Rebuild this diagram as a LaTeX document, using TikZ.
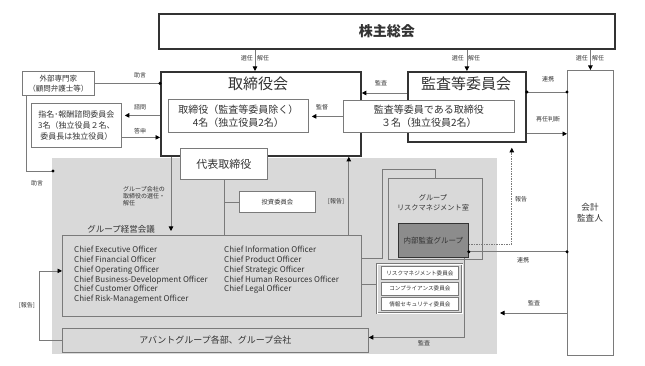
\documentclass[tikz,border=0pt]{standalone}
\usepackage{fontspec}
\setmainfont{Noto Sans CJK JP}
\usetikzlibrary{arrows.meta,calc}
\definecolor{bg}{HTML}{D9D9D9}
\definecolor{ln}{HTML}{7A7A7A}
\definecolor{txt}{HTML}{333333}
\definecolor{dk}{HTML}{8C8C8C}
\begin{document}
\begin{tikzpicture}[x=1pt,y=-1pt,
 every node/.style={text=txt, inner sep=0pt},
 box/.style={draw=ln, line width=0.8pt, fill=white, anchor=north west, align=center},
 tbox/.style={draw=txt, line width=1.8pt, fill=white, anchor=north west, align=center},
 lab/.style={font=\fontsize{6}{7.2}\selectfont},
 con/.style={draw=ln, line width=0.7pt},
 arr/.style={con, -{Triangle[length=4.5pt,width=4.5pt,color=black]}},
 dotc/.style={circle, fill=black, minimum size=3.4pt, inner sep=0pt}
]
\useasboundingbox (0,0) rectangle (645,366);
\fill[bg] (52,158) rectangle (497,354);

% main boxes
\node[tbox, minimum width=456pt, minimum height=35pt, font=\fontsize{14}{14}\selectfont\bfseries] (kabu) at (158,13) {株主総会};
\node[tbox, minimum width=200pt, minimum height=84pt] (tori) at (160,71) {};
\node[font=\fontsize{15}{15}\selectfont] (toriT) at (258,84) {取締役会};
\node[box, minimum width=140pt, minimum height=33pt, font=\fontsize{10}{13}\selectfont] (toriIn) at (168,99) {取締役（監査等委員除く）\\4名（独立役員2名）};
\node[tbox, minimum width=118pt, minimum height=70pt] (kansa) at (407,71) {};
\node[font=\fontsize{15}{15}\selectfont] (kansaT) at (466,84) {監査等委員会};
\node[box, minimum width=171pt, minimum height=32pt, font=\fontsize{10}{13}\selectfont] (kansaIn) at (343,100) {監査等委員である取締役\\３名（独立役員2名）};
\node[box, minimum width=87pt, minimum height=31pt, font=\fontsize{11}{11}\selectfont] (daihyo) at (180,148) {代表取締役};
\node[box, minimum width=72pt, minimum height=24pt, font=\fontsize{7.5}{10}\selectfont] (gaibu) at (22,71) {外部専門家\\（顧問弁護士等）};
\node[box, minimum width=90pt, minimum height=44pt, font=\fontsize{8}{11}\selectfont] (shimei) at (31,103) {指名･報酬諮問委員会\\3名（独立役員２名、\\委員長は独立役員）};
\node[box, minimum width=76pt, minimum height=21pt, font=\fontsize{6.3}{7}\selectfont] (toshi) at (239,191) {投資委員会};
\node[box, fill=bg, minimum width=299pt, minimum height=81pt] (cxo) at (62,235) {};
\node[font=\fontsize{8.5}{9}\selectfont] (keiei) at (121,229) {グループ経営会議};
\node[anchor=north west, align=left, font=\fontsize{8}{9.8}\selectfont] (col1) at (74,246) {Chief Executive Officer\\Chief Financial Officer\\Chief Operating Officer\\Chief Business-Development Officer\\Chief Customer Officer\\Chief Risk-Management Officer};
\node[anchor=north west, align=left, font=\fontsize{8}{9.8}\selectfont] (col2) at (224,246) {Chief Information Officer\\Chief Product Officer\\Chief Strategic Officer\\Chief Human Resources Officer\\Chief Legal Officer};
\node[box, fill=bg, minimum width=306pt, minimum height=24pt, font=\fontsize{9}{9}\selectfont] (avant) at (62,328) {アバントグループ各部、グループ会社};
\node[box, fill=bg, minimum width=94pt, minimum height=81pt] (risk) at (388,178) {};
\node[font=\fontsize{7.2}{10}\selectfont, align=center] (riskT) at (433,203) {グループ\\リスクマネジメント室};
\node[box, fill=dk, draw=txt, minimum width=70pt, minimum height=34pt, font=\fontsize{7.5}{8}\selectfont] (naibu) at (398,223) {内部監査グループ};
\node[box, fill=bg, draw=ln, double=white, double distance=0.8pt, line width=0.6pt, minimum width=85pt, minimum height=49pt] (comm) at (377,264) {};
\node[box, minimum width=77pt, minimum height=13pt, font=\fontsize{5.6}{6}\selectfont] (c1) at (381,266) {リスクマネジメント委員会};
\node[box, minimum width=77pt, minimum height=13pt, font=\fontsize{5.6}{6}\selectfont] (c2) at (381,281.5) {コンプライアンス委員会};
\node[box, minimum width=77pt, minimum height=13pt, font=\fontsize{5.6}{6}\selectfont] (c3) at (381,297) {情報セキュリティ委員会};
\node[box, minimum width=46pt, minimum height=285pt] (kaikei) at (567,70) {};
\node[font=\fontsize{8.6}{11}\selectfont, align=center] (kaikeiT) at (590,213) {会計\\監査人};

% shareholders arrows
\draw[arr] ([xshift=-3pt]toriT.south |- kabu.south) -- ([xshift=-3pt]toriT.south |- tori.north);
\node[lab, anchor=east] at (253,58) {選任};
\node[lab, anchor=west] at (257,58) {解任};
\draw[arr] (kansa.north |- kabu.south) -- (kansa.north);
\node[lab, anchor=east] at (464,58) {選任};
\node[lab, anchor=west] at (468,58) {解任};
\draw[arr] (kaikei.north |- kabu.south) -- (kaikei.north);
\node[lab, anchor=east] at (588,58) {選任};
\node[lab, anchor=west] at (592,58) {解任};

% audit committee relations
\draw[arr] ([yshift=-22pt]kansa.north west) -- ([yshift=-22pt]tori.north east);
\node[lab] at (381,83) {監査};
\draw[arr, shorten >=3pt] (kansaIn.west) -- (kansaIn.west -| toriIn.east);
\node[lab] at (322,107) {監督};
\draw[con] ([yshift=-21pt]kansa.north east) coordinate (r1) -- (r1 -| kaikei.west) coordinate (r2);
\node[dotc] at (r1) {};
\node[dotc] at (r2) {};
\node[lab] at (548,79) {連携};
\draw[arr] ([yshift=9pt]kansa.south east) coordinate (r3) -- (r3 -| kaikei.west);
\node[lab] at (548,119) {再任判断};
\draw[arr, dashed, dash pattern=on 1.5pt off 1pt, shorten >=5pt] ([yshift=-4pt]naibu.east) -| ([xshift=-15pt]kansa.south east);
\node[lab] at (521,199) {報告};
\draw[con] ([yshift=6pt]naibu.south east) coordinate (n1) -- (n1 -| kaikei.west) coordinate (n2);
\node[dotc] at (n1) {};
\node[dotc] at (n2) {};
\node[lab] at (523,260) {連携};
\draw[arr] ([xshift=-4pt]naibu.south east) |- ([yshift=3pt]avant.east);
\node[lab] at (424,343) {監査};
\coordinate (kaA) at (500,313);
\draw[arr] (kaikei.west |- kaA) -- (kaA);
\node[lab] at (534,303) {監査};

% left side
\draw[con] (gaibu.east) -- (gaibu.east -| tori.west) coordinate (g1);
\node[dotc] at (g1) {};
\node[lab] at (140,75) {助言};
\coordinate (s1) at ($(shimei.east)+(0,-10)$);
\coordinate (s2) at ($(shimei.east)+(0,12)$);
\draw[arr, shorten >=3pt] (tori.west |- s1) -- (s1);
\node[lab] at (140,107) {諮問};
\draw[arr] (s2) -- (tori.west |- s2);
\node[lab] at (140,131) {答申};
\coordinate (jogen) at (53,171);
\draw[con] ([xshift=4pt]gaibu.south west) |- (jogen);
\node[dotc] at (jogen) {};
\node[lab] at (37,183) {助言};

% executive side
\draw[arr, shorten >=4pt] ([xshift=11pt]tori.south west) -- ([xshift=11pt]tori.south west |- cxo.north);
\node[lab, anchor=north west, align=left] at (123,186) {グループ会社の\\取締役の選任・\\解任};
\draw[con] (daihyo.south) -- (daihyo.south |- cxo.north);
\draw[con] (daihyo.south |- toshi.west) -- (toshi.west);
\draw[arr] ([xshift=-13pt]cxo.north east) -- ([xshift=-13pt]cxo.north east |- tori.south);
\node[lab] at (336,201) {[報告]};
\draw[con] ([yshift=-23pt]cxo.north east) -| ++(21,-89) -| (risk.north);
\draw[con] ([yshift=-49pt]cxo.north east) -- ([yshift=-49pt]cxo.north east -| comm.west);
\draw[arr] (avant.west) -- ++(-23,0) |- ([yshift=5pt]cxo.west);
\node[lab] at (27,305) {[報告]};
\end{tikzpicture}
\end{document}
